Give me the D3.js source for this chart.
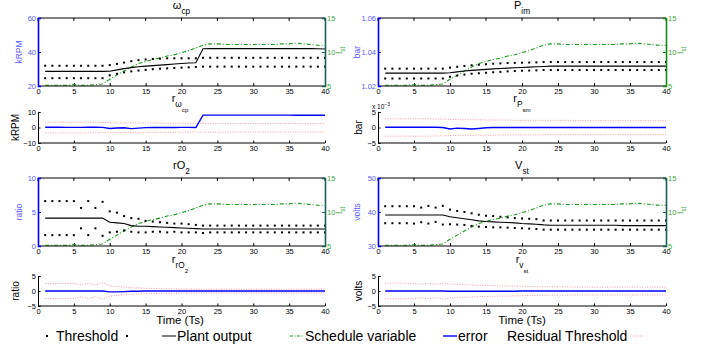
<!DOCTYPE html>
<html>
<head>
<meta charset="utf-8">
<script src="https://cdn.jsdelivr.net/npm/d3@7"></script>
<style>
  body { margin: 0; background: #fff; }
  svg { font-family: "Liberation Sans", Arial, sans-serif; }
</style>
</head>
<body>
<svg id="chart" width="710" height="352"></svg>
<script>
// time steps
const steps = d3.range(1, 41);
const xTicks = [0, 5, 10, 15, 20, 25, 30, 35, 40];

// schedule variable (same in all four panels)
const schedule = [5.1,5.1,5.1,5.1,5.2,5.1,5.1,5.2,5.3,6.0,6.6,7.2,7.8,8.3,8.6,8.9,9.1,9.4,9.6,9.9,
  10.2,10.6,11.0,11.2,11.2,11.1,11.1,11.1,11.1,11.1,11.1,11.1,11.1,11.2,11.2,11.3,11.2,11.1,11.0,11.0];

// omega_cp (kRPM)
const wcpPlant = [28.6,28.6,28.6,28.6,28.6,28.6,28.6,28.6,28.6,28.7,29.5,30.2,30.8,31.3,31.7,32.0,32.3,32.6,32.9,33.2,
  33.5,33.7,41.9,42.0,42.0,42.0,42.0,42.0,42.0,42.0,42.0,42.0,42.0,42.0,42.0,42.0,42.0,42.0,41.9,41.8];
const wcpUpper = [31.9,31.9,31.9,31.9,31.9,31.9,31.9,31.9,31.9,32.3,33.0,33.8,34.6,35.2,35.6,35.9,36.1,36.3,36.3,36.3,
  36.3,36.3,36.6,36.6,36.6,36.6,36.6,36.6,36.6,36.6,36.6,36.6,36.6,36.6,36.6,36.6,36.6,36.6,36.6,36.6];
const wcpLower = [24.6,24.6,24.6,24.6,24.6,24.6,24.6,24.6,24.6,26.3,27.2,28.0,28.6,29.1,29.5,29.9,30.2,30.4,30.6,30.8,
  31.0,31.2,31.4,31.4,31.4,31.4,31.4,31.4,31.4,31.4,31.4,31.4,31.4,31.4,31.4,31.4,31.4,31.4,31.4,31.4];
const wcpErr = [0.2,0.2,0.2,0.1,0.1,0.1,0.2,0.2,0.1,-0.6,-0.3,-0.2,-0.7,-0.4,-0.1,0.0,0.0,0.1,0.0,0.1,
  0.1,0.0,8.0,8.0,8.0,8.0,8.0,8.0,8.0,8.0,8.0,8.0,8.0,8.0,8.0,7.9,7.9,7.9,7.9,7.9];
const wcpThrUp = [3.4,3.4,3.4,3.4,3.4,3.4,3.4,3.3,3.3,3.2,3.1,3.0,3.0,2.9,2.9,2.9,2.8,2.8,2.8,2.8,
  2.7,2.7,2.7,2.7,2.7,2.7,2.6,2.6,2.6,2.6,2.6,2.6,2.6,2.6,2.6,2.5,2.5,2.5,2.5,2.5];
const wcpThrLo = [-3.5,-3.5,-3.5,-3.5,-3.5,-3.5,-3.5,-3.4,-3.4,-3.3,-3.3,-3.2,-3.2,-3.2,-3.1,-3.1,-3.1,-3.1,-3.0,-3.0,
  -3.0,-3.0,-3.0,-3.0,-3.0,-3.0,-3.0,-2.9,-2.9,-2.9,-2.9,-2.9,-2.9,-2.9,-2.9,-2.9,-2.9,-2.9,-2.9,-2.9];

// P_im (bar)
const pimPlant = [1.0276,1.0276,1.0276,1.0276,1.0276,1.0276,1.0276,1.0276,1.0276,1.0278,1.0283,1.0288,1.0292,1.0295,1.0298,1.0301,1.0303,1.0305,1.0307,1.0309,
  1.0311,1.0313,1.0315,1.0317,1.0317,1.0317,1.0317,1.0317,1.0317,1.0317,1.0317,1.0317,1.0317,1.0317,1.0317,1.0317,1.0317,1.0317,1.0317,1.0317];
const pimUpper = [1.0302,1.0302,1.0302,1.0302,1.0302,1.0302,1.0302,1.0302,1.0302,1.0308,1.0313,1.0318,1.0322,1.0325,1.0328,1.0331,1.0333,1.0335,1.0336,1.0337,
  1.0338,1.0339,1.0341,1.0341,1.0341,1.0341,1.0341,1.0341,1.0341,1.0341,1.0341,1.0341,1.0341,1.0341,1.0341,1.0341,1.0341,1.0341,1.0341,1.0341];
const pimLower = [1.0244,1.0244,1.0244,1.0244,1.0244,1.0244,1.0244,1.0244,1.0244,1.0254,1.0261,1.0267,1.0272,1.0275,1.0278,1.0281,1.0283,1.0286,1.0288,1.0290,
  1.0291,1.0292,1.0294,1.0294,1.0294,1.0294,1.0294,1.0294,1.0294,1.0294,1.0294,1.0294,1.0294,1.0294,1.0294,1.0294,1.0294,1.0294,1.0294,1.0294];
// residual in units of 1e-3 bar
const pimErr = [0.1,0.1,0.1,0.1,0.1,0.1,0.1,0.1,0.0,-0.5,-0.2,-0.3,-0.5,-0.3,-0.1,0.0,0.0,0.0,0.0,0.0,
  0.0,0.0,0.0,0.0,0.0,0.0,0.0,0.0,0.0,0.0,0.0,0.0,0.0,0.0,0.0,0.0,0.0,0.0,0.0,0.0];
const pimThrUp = [2.8,2.8,2.8,2.8,2.8,2.8,2.8,2.7,2.7,2.6,2.6,2.5,2.5,2.5,2.4,2.4,2.4,2.4,2.3,2.3,
  2.3,2.3,2.3,2.3,2.3,2.3,2.3,2.2,2.2,2.2,2.2,2.2,2.2,2.2,2.2,2.2,2.2,2.2,2.2,2.2];
const pimThrLo = [-2.8,-2.8,-2.8,-2.8,-2.8,-2.8,-2.8,-2.7,-2.7,-2.6,-2.6,-2.5,-2.5,-2.5,-2.5,-2.5,-2.4,-2.4,-2.4,-2.4,
  -2.4,-2.4,-2.4,-2.3,-2.3,-2.3,-2.3,-2.3,-2.3,-2.3,-2.3,-2.3,-2.3,-2.3,-2.3,-2.3,-2.3,-2.3,-2.3,-2.3];

// rO2 (ratio)
const ro2Plant = [4.1,4.1,4.1,4.1,4.1,4.1,4.1,4.1,4.1,3.5,3.4,3.3,3.0,2.9,2.9,2.85,2.8,2.75,2.7,2.65,
  2.6,2.55,2.5,2.5,2.5,2.5,2.5,2.5,2.5,2.5,2.5,2.5,2.5,2.5,2.5,2.5,2.5,2.5,2.5,2.5];
const ro2Upper = [6.6,6.6,6.6,6.6,6.6,5.6,6.6,5.6,6.5,5.1,4.9,4.4,4.1,4.0,3.7,3.6,3.5,3.4,3.3,3.3,
  3.2,3.1,3.0,3.0,3.0,3.0,3.0,3.0,3.0,3.0,3.0,3.0,3.0,3.0,3.0,3.0,3.0,3.0,3.0,3.0];
const ro2Lower = [1.6,1.6,1.6,1.6,1.6,2.6,1.6,2.6,1.5,2.0,2.1,2.3,2.1,2.0,2.0,2.1,2.1,2.0,2.1,2.0,
  2.0,2.0,1.9,2.0,2.0,2.0,2.0,2.0,2.0,2.0,2.0,2.0,2.0,2.0,2.0,2.0,2.0,2.0,2.0,2.0];
const ro2Err = [0.0,0.0,0.0,0.0,0.0,0.0,0.0,0.0,0.0,-0.3,-0.3,-0.2,-0.1,-0.1,0.0,0.0,0.0,0.0,0.0,0.0,
  0.0,0.0,0.0,0.0,0.0,0.0,0.0,0.0,0.0,0.0,0.0,0.0,0.0,0.0,0.0,0.0,0.0,0.0,0.0,0.0];
const ro2ThrUp = [2.5,2.5,2.5,2.5,2.5,2.0,2.6,2.0,2.7,1.7,1.5,1.3,1.1,1.0,0.9,0.85,0.8,0.75,0.7,0.7,
  0.65,0.6,0.6,0.6,0.6,0.6,0.6,0.6,0.6,0.6,0.6,0.6,0.6,0.6,0.6,0.6,0.6,0.6,0.6,0.6];
const ro2ThrLo = [-2.5,-2.5,-2.5,-2.5,-2.5,-1.9,-2.6,-1.9,-2.6,-1.7,-1.5,-1.3,-1.1,-1.0,-0.9,-0.85,-0.8,-0.75,-0.7,-0.7,
  -0.65,-0.6,-0.6,-0.6,-0.6,-0.6,-0.6,-0.6,-0.6,-0.6,-0.6,-0.6,-0.6,-0.6,-0.6,-0.6,-0.6,-0.6,-0.6,-0.6];

// v_st (volts)
const vstPlant = [39.1,39.1,39.1,39.1,39.1,39.1,39.1,39.1,39.1,38.6,38.3,38.0,37.7,37.4,37.2,37.1,37.0,36.9,36.8,36.6,
  36.5,36.4,36.2,36.1,36.1,36.1,36.1,36.1,36.1,36.1,36.1,36.1,36.1,36.0,36.0,36.0,36.0,36.0,36.0,36.0];
const vstUpper = [41.7,41.7,41.7,41.7,41.7,41.3,41.8,41.3,41.8,40.7,40.3,40.0,39.6,39.2,38.9,38.8,38.6,38.4,38.2,38.1,
  38.0,37.9,37.5,37.5,37.5,37.5,37.5,37.5,37.5,37.5,37.5,37.5,37.5,37.5,37.5,37.5,37.5,37.5,37.5,37.5];
const vstLower = [36.7,36.7,36.7,36.7,36.6,37.0,36.6,37.1,36.3,36.4,36.3,36.2,35.9,35.7,35.6,35.5,35.5,35.4,35.3,35.2,
  35.1,35.0,34.8,34.8,34.8,34.8,34.8,34.8,34.8,34.8,34.8,34.8,34.8,34.8,34.8,34.8,34.8,34.8,34.8,34.8];
const vstErr = [0.0,0.0,0.0,0.0,0.0,0.0,0.0,0.0,0.0,-0.1,-0.1,-0.1,-0.1,-0.1,-0.1,-0.1,-0.1,-0.1,-0.1,0.0,
  0.0,0.0,0.0,0.0,0.0,0.0,0.0,0.0,0.0,0.0,0.0,0.0,0.0,0.0,0.0,0.0,0.0,0.0,0.0,0.0];
const vstThrUp = [2.6,2.6,2.6,2.6,2.6,2.2,2.6,2.2,2.7,2.3,2.2,2.1,2.0,1.9,1.8,1.8,1.7,1.7,1.6,1.6,
  1.5,1.5,1.4,1.4,1.4,1.4,1.3,1.3,1.3,1.3,1.3,1.3,1.3,1.3,1.3,1.3,1.3,1.3,1.3,1.3];
const vstThrLo = [-2.6,-2.6,-2.6,-2.6,-2.6,-2.2,-2.6,-2.2,-2.7,-2.3,-2.2,-2.1,-2.0,-1.9,-1.8,-1.8,-1.7,-1.7,-1.6,-1.6,
  -1.5,-1.5,-1.4,-1.4,-1.4,-1.4,-1.3,-1.3,-1.3,-1.3,-1.3,-1.3,-1.3,-1.3,-1.3,-1.3,-1.3,-1.3,-1.3,-1.3];

const legendLabels = ['Threshold', 'Plant output', 'Schedule variable', 'error', 'Residual Threshold'];

const BLUE = '#0000ff', GREEN = '#1a9a1a', BLUE_TXT = '#5a5aff', GREEN_TXT = '#3fa83f';
const svg = d3.select('#chart');

const cols = [{ x0: 38, x1: 325 }, { x0: 378, x1: 666 }];
const rows = { main1: [18, 86], res1: [112, 143], main2: [178, 246], res2: [276, 306] };

// title with nested subscripts: parts = [[text, level], ...]
function title(x, y, parts, size) {
  const t = svg.append('text').attr('x', x).attr('y', y)
    .attr('text-anchor', 'middle').attr('font-size', size).attr('fill', '#000');
  let lvl = 0;
  parts.forEach(([s, l]) => {
    const fs = size * Math.pow(0.75, l);
    t.append('tspan').attr('dy', (l - lvl) * size * 0.45).attr('font-size', fs).text(s);
    lvl = l;
  });
}

function line(g, x, y, vals, attrs) {
  const p = g.append('path')
    .datum(vals)
    .attr('fill', 'none')
    .attr('d', d3.line().x((d, i) => x(steps[i])).y(d => y(d)));
  Object.entries(attrs).forEach(([k, v]) => p.attr(k, v));
}

function xAxis(g, x, yPos, inner) {
  g.append('g').attr('transform', `translate(0,${yPos})`)
    .call(d3.axisBottom(x).tickValues(xTicks).tickSize(inner).tickPadding(3 + inner).tickFormat(d3.format('d')))
    .call(a => a.select('.domain').remove())
    .call(a => a.selectAll('line').attr('y2', -inner).attr('stroke', '#000'))
    .call(a => a.selectAll('text').attr('font-size', 7.5).attr('fill', '#000').attr('dy', '0.71em').attr('y', 2.5));
}

function mainPanel(col, cfg) {
  const [y0, y1] = cfg.rows;
  const { x0, x1 } = cols[col];
  const x = d3.scaleLinear().domain([0, 40]).range([x0, x1]);
  const y = d3.scaleLinear().domain(cfg.yDomain).range([y1, y0]);
  const y2 = d3.scaleLinear().domain([5, 15]).range([y1, y0]);
  const g = svg.append('g');

  // x ticks bottom + top (inward)
  xAxis(g, x, y1, 3);
  g.append('g').selectAll('line').data(xTicks).join('line')
    .attr('x1', d => x(d)).attr('x2', d => x(d)).attr('y1', y0).attr('y2', y0 + 3).attr('stroke', '#000');

  // data
  line(g, x, y2, schedule, { stroke: GREEN, 'stroke-width': 1.1, 'stroke-dasharray': '4,2,1,2' });
  line(g, x, y, cfg.plant, { stroke: '#000', 'stroke-width': 1.1 });
  [cfg.upper, cfg.lower].forEach(vals => {
    g.append('g').selectAll('rect').data(vals).join('rect')
      .attr('x', (d, i) => x(steps[i]) - 1).attr('y', d => y(d) - 1)
      .attr('width', 2).attr('height', 2).attr('fill', '#000');
  });

  // frame
  g.append('line').attr('x1', x0).attr('x2', x1).attr('y1', y0).attr('y2', y0).attr('stroke', '#000').attr('stroke-width', 1.2);
  g.append('line').attr('x1', x0).attr('x2', x1).attr('y1', y1).attr('y2', y1).attr('stroke', '#000').attr('stroke-width', 1.2);

  // left axis
  g.append('g').attr('transform', `translate(${x0},0)`)
    .call(d3.axisLeft(y).tickValues(cfg.yTicks).tickSize(-3).tickPadding(2).tickFormat(cfg.fmt))
    .call(a => a.select('.domain').attr('stroke', BLUE).attr('stroke-width', 1.6))
    .call(a => a.selectAll('.tick line').attr('stroke', BLUE))
    .call(a => a.selectAll('text').attr('font-size', 7.5).attr('fill', BLUE_TXT));
  // right axis
  g.append('g').attr('transform', `translate(${x1},0)`)
    .call(d3.axisRight(y2).tickValues([5, 10, 15]).tickSize(-3).tickPadding(2).tickFormat(d3.format('d')))
    .call(a => a.select('.domain').attr('stroke', cfg.rightColor).attr('stroke-width', 1.6))
    .call(a => a.selectAll('.tick line').attr('stroke', cfg.rightColor))
    .call(a => a.selectAll('text').attr('font-size', 7.5).attr('fill', GREEN_TXT));

  // y labels
  svg.append('text').attr('transform', `translate(${cfg.labelX},${(y0 + y1) / 2}) rotate(-90)`)
    .attr('text-anchor', 'middle').attr('font-size', 8.5).attr('fill', BLUE_TXT).text(cfg.unit);
  const r = svg.append('text').attr('transform', `translate(${x1 + 17},${(y0 + y1) / 2 + 2}) rotate(-90)`)
    .attr('font-size', 8.5).attr('fill', GREEN_TXT);
  r.append('tspan').text('I');
  r.append('tspan').attr('dy', 3).attr('font-size', 6.5).text('st');

  title((x0 + x1) / 2, y0 - 9, cfg.title, 11);
}

function resPanel(col, cfg) {
  const [y0, y1] = cfg.rows;
  const { x0, x1 } = cols[col];
  const x = d3.scaleLinear().domain([0, 40]).range([x0, x1]);
  const y = d3.scaleLinear().domain(cfg.yDomain).range([y1, y0]);
  const g = svg.append('g');

  line(g, x, y, cfg.thrUp, { stroke: '#ff9a9a', 'stroke-width': 1, 'stroke-dasharray': '1,1.5' });
  line(g, x, y, cfg.thrLo, { stroke: '#ff9a9a', 'stroke-width': 1, 'stroke-dasharray': '1,1.5' });
  line(g, x, y, cfg.err, { stroke: BLUE, 'stroke-width': 1.4 });

  xAxis(g, x, y1, 2.5);
  g.append('line').attr('x1', x0).attr('x2', x1).attr('y1', y1).attr('y2', y1).attr('stroke', '#000');
  g.append('g').attr('transform', `translate(${x0},0)`)
    .call(d3.axisLeft(y).tickValues(cfg.yTicks).tickSize(-2.5).tickPadding(2).tickFormat(d3.format('d')))
    .call(a => a.select('.domain').attr('stroke', '#000'))
    .call(a => a.selectAll('text').attr('font-size', 7.5).attr('fill', '#000'));

  svg.append('text').attr('transform', `translate(${cfg.labelX},${(y0 + y1) / 2}) rotate(-90)`)
    .attr('text-anchor', 'middle').attr('font-size', 10).attr('fill', '#000').text(cfg.unit);
  if (cfg.exp) {
    const e = svg.append('text').attr('x', x0 - 6).attr('y', y0 - 3).attr('font-size', 6.5).attr('fill', '#000');
    e.append('tspan').text('x 10');
    e.append('tspan').attr('dy', -3).attr('font-size', 5).text('−3');
  }
  title(cfg.titleX, cfg.titleY, cfg.title, 11);
}

mainPanel(0, { rows: rows.main1, yDomain: [20, 60], yTicks: [20, 40, 60], fmt: d3.format('d'),
  plant: wcpPlant, upper: wcpUpper, lower: wcpLower, unit: 'kRPM', labelX: 22, rightColor: '#17615a',
  title: [['ω', 0], ['cp', 1]] });
mainPanel(1, { rows: rows.main1, yDomain: [1.02, 1.06], yTicks: [1.02, 1.04, 1.06], fmt: d3.format('.2f'),
  plant: pimPlant, upper: pimUpper, lower: pimLower, unit: 'bar', labelX: 360, rightColor: '#138a13',
  title: [['P', 0], ['im', 1]] });
mainPanel(0, { rows: rows.main2, yDomain: [0, 10], yTicks: [0, 5, 10], fmt: d3.format('d'),
  plant: ro2Plant, upper: ro2Upper, lower: ro2Lower, unit: 'ratio', labelX: 22, rightColor: '#17615a',
  title: [['rO', 0], ['2', 1]] });
mainPanel(1, { rows: rows.main2, yDomain: [30, 50], yTicks: [30, 40, 50], fmt: d3.format('d'),
  plant: vstPlant, upper: vstUpper, lower: vstLower, unit: 'volts', labelX: 360, rightColor: '#17615a',
  title: [['V', 0], ['st', 1]] });

resPanel(0, { rows: rows.res1, yDomain: [-10, 10], yTicks: [-10, 0, 10], err: wcpErr, thrUp: wcpThrUp, thrLo: wcpThrLo,
  unit: 'kRPM', labelX: 19, titleX: 180, titleY: 102, title: [['r', 0], ['ω', 1], ['cp', 2]] });
resPanel(1, { rows: rows.res1, yDomain: [-5, 5], yTicks: [-5, 0, 5], err: pimErr, thrUp: pimThrUp, thrLo: pimThrLo,
  unit: 'bar', labelX: 362, titleX: 522, titleY: 102, exp: true, title: [['r', 0], ['P', 1], ['sm', 2]] });
resPanel(0, { rows: rows.res2, yDomain: [-5, 5], yTicks: [-5, 0, 5], err: ro2Err, thrUp: ro2ThrUp, thrLo: ro2ThrLo,
  unit: 'ratio', labelX: 19, titleX: 180, titleY: 263, title: [['r', 0], ['rO', 1], ['2', 2]] });
resPanel(1, { rows: rows.res2, yDomain: [-5, 5], yTicks: [-5, 0, 5], err: vstErr, thrUp: vstThrUp, thrLo: vstThrLo,
  unit: 'volts', labelX: 362, titleX: 522, titleY: 263, title: [['r', 0], ['v', 1], ['st', 2]] });

// x-axis labels
[180, 522].forEach(cx => svg.append('text').attr('x', cx).attr('y', 324).attr('text-anchor', 'middle')
  .attr('font-size', 11.5).attr('fill', '#000').text('Time (Ts)'));

// legend
const lg = svg.append('g').attr('font-size', 14).attr('fill', '#000');
const ly = 341;
lg.append('rect').attr('x', 46).attr('y', ly - 6).attr('width', 2).attr('height', 2).attr('fill', '#000');
lg.append('rect').attr('x', 126).attr('y', ly - 6).attr('width', 2).attr('height', 2).attr('fill', '#000');
lg.append('text').attr('x', 56).attr('y', ly).text(legendLabels[0]);
lg.append('line').attr('x1', 162).attr('x2', 176).attr('y1', ly - 5).attr('y2', ly - 5).attr('stroke', '#000');
lg.append('text').attr('x', 177).attr('y', ly).text(legendLabels[1]);
lg.append('line').attr('x1', 290).attr('x2', 303).attr('y1', ly - 5).attr('y2', ly - 5)
  .attr('stroke', GREEN).attr('stroke-dasharray', '3,1.5,1,1.5');
lg.append('text').attr('x', 305).attr('y', ly).text(legendLabels[2]);
lg.append('line').attr('x1', 443).attr('x2', 457).attr('y1', ly - 5).attr('y2', ly - 5).attr('stroke', BLUE).attr('stroke-width', 1.4);
lg.append('text').attr('x', 458).attr('y', ly).text(legendLabels[3]);
lg.append('text').attr('x', 507).attr('y', ly).text(legendLabels[4]);
lg.append('line').attr('x1', 630).attr('x2', 643).attr('y1', ly - 5).attr('y2', ly - 5)
  .attr('stroke', '#ff9a9a').attr('stroke-dasharray', '1,1.5');
</script>
</body>
</html>
